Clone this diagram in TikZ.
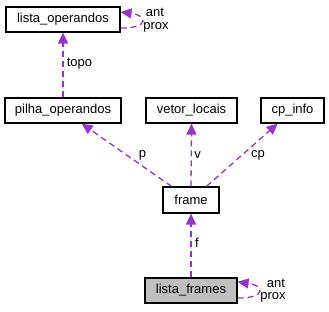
\documentclass[tikz,border=0pt]{standalone}
\usepackage{fontspec}
\setmainfont{Liberation Sans}
\usetikzlibrary{arrows.meta,calc}
\definecolor{edgecol}{HTML}{9A32CD}
\definecolor{curfill}{HTML}{BFBFBF}
\tikzset{
  cls/.style={draw=black, line width=1.1pt, fill=white, inner sep=0pt,
    minimum height=25pt, font=\fontsize{13}{15}\selectfont},
  cur/.style={cls, fill=curfill},
  edge/.style={draw=edgecol, line width=1.3pt, dash pattern=on 6pt off 4pt,
    -{Triangle[length=11pt,width=10pt,fill=edgecol]}},
  lbl/.style={inner sep=0pt, font=\fontsize{13}{15}\selectfont}
}
\begin{document}
\begin{tikzpicture}[x=1pt,y=-1pt]
\useasboundingbox (0,0) rectangle (329,311);
% classes
\node[cls, minimum width=114pt] (lo) at (63,19.5) {lista\_operandos};
\node[cls, minimum width=116pt] (po) at (63,110.5) {pilha\_operandos};
\node[cls, minimum width=91pt]  (vl) at (191.5,110.5) {vetor\_locais};
\node[cls, minimum width=63pt]  (cp) at (292.5,110.5) {cp\_info};
\node[cls, minimum width=56pt, minimum height=26pt] (fr) at (191,200) {frame};
\node[cur, minimum width=92pt]  (lf) at (191,290.5) {lista\_frames};
% member links
\draw[edge] (po) -- (lo);
\draw[edge] (fr) -- (po);
\draw[edge] (fr.north) -- (vl.south);
\draw[edge] (fr) -- (cp);
\draw[edge] (lf.north) -- (fr.south);
\node[lbl] (ltopo) at (79.5,64) {topo};
\node[lbl] (lp) at (142.5,155) {p};
\node[lbl] (lv) at (197.5,155) {v};
\node[lbl] (lcp) at (258,155) {cp};
\node[lbl] (lf2) at (197,243) {f};
% self references
\draw[edge] ($(lo.east)+(0,8.5)$) .. controls ($(lo.east)+(28,9)$) and ($(lo.east)+(28,-4)$) .. ($(lo.east)+(0,-7.5)$);
\node[lbl] (loa) at (155,12) {ant};
\node[lbl] (lop) at (156,27) {prox};
\draw[edge] ($(lf.east)+(0,7.5)$) .. controls ($(lf.east)+(28,8)$) and ($(lf.east)+(28,-5)$) .. ($(lf.east)+(0,-8.5)$);
\node[lbl] (lfa) at (276,283) {ant};
\node[lbl] (lfp) at (273,297) {prox};
\end{tikzpicture}
\end{document}
